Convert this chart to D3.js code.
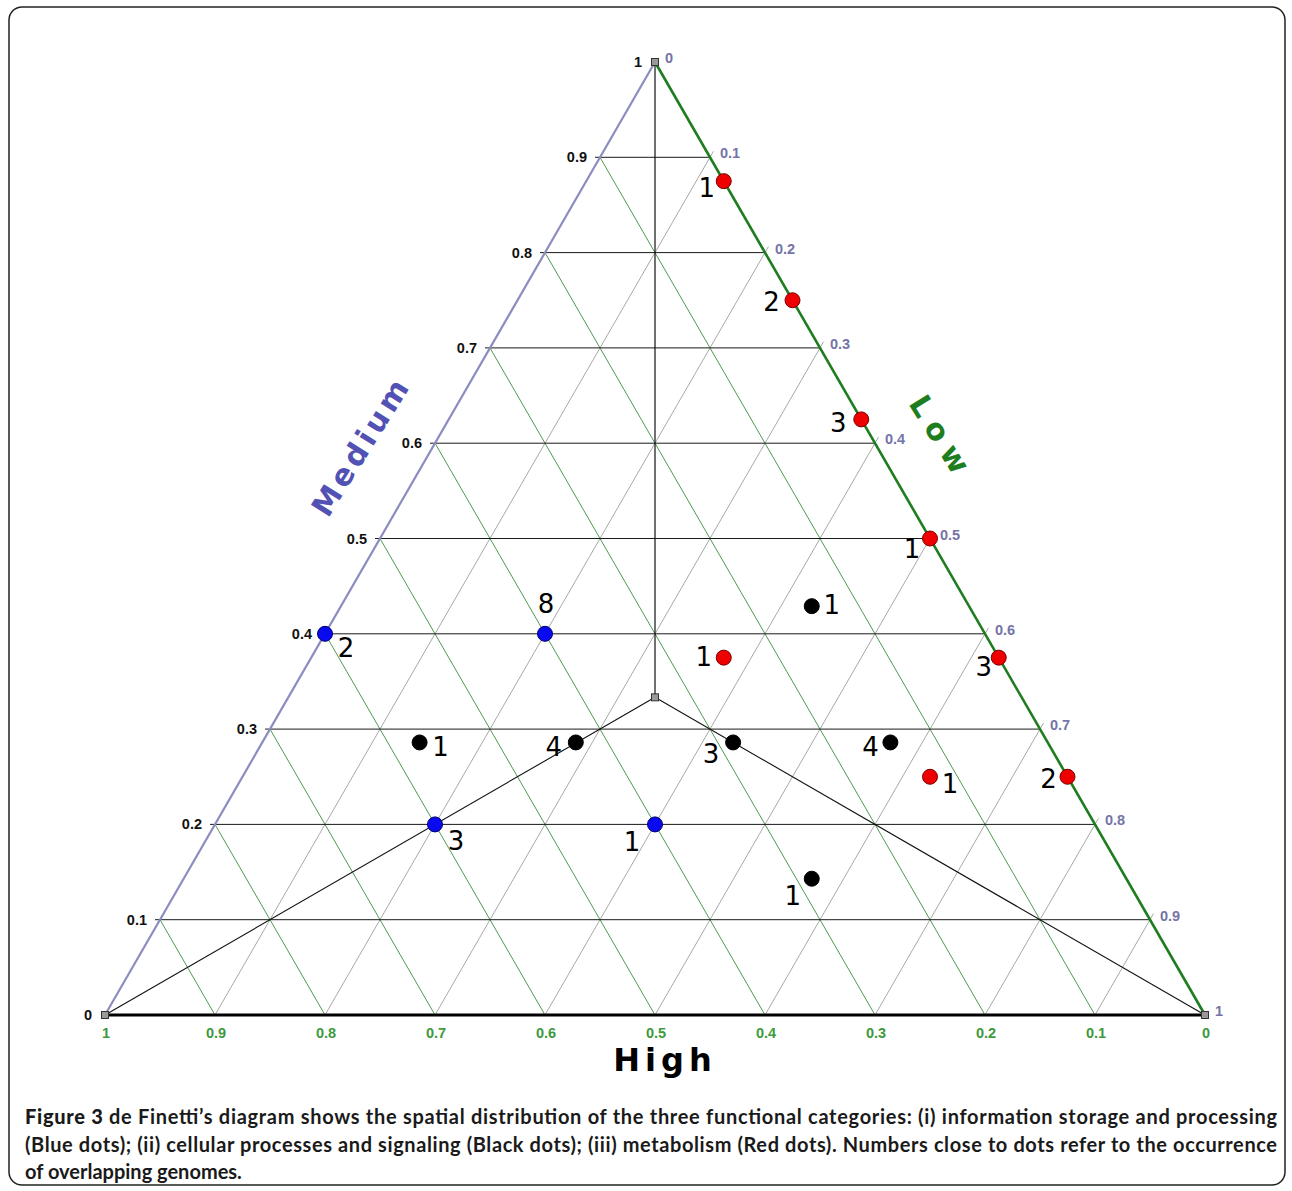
<!DOCTYPE html>
<html>
<head>
<meta charset="utf-8">
<script src="https://cdn.jsdelivr.net/npm/d3@7"></script>
<style>
  html, body { margin: 0; padding: 0; background: #fff; }
  svg { display: block; }
</style>
</head>
<body>
<svg id="chart" width="1292" height="1191"></svg>
<script>
// ---------- data ----------
const tickValues = [0, 0.1, 0.2, 0.3, 0.4, 0.5, 0.6, 0.7, 0.8, 0.9, 1];
const tickLabels = ["0", "0.1", "0.2", "0.3", "0.4", "0.5", "0.6", "0.7", "0.8", "0.9", "1"];

// Blue dots: information storage and processing
const blueHigh   = [0.6, 0.4, 0.6, 0.4];
const blueMedium = [0.4, 0.4, 0.2, 0.2];
const blueLow    = [0.0, 0.2, 0.2, 0.4];
const blueCount  = [2, 8, 3, 1];

// Black dots: cellular processes and signaling
const blackHigh   = [0.143, 0.571, 0.429, 0.286, 0.143, 0.286];
const blackMedium = [0.429, 0.286, 0.286, 0.286, 0.286, 0.143];
const blackLow    = [0.428, 0.143, 0.285, 0.428, 0.571, 0.571];
const blackCount  = [1, 1, 4, 3, 4, 1];

// Red dots: metabolism
const redHigh   = [0.0, 0.0, 0.0, 0.0, 0.0, 0.0, 0.25, 0.125];
const redMedium = [0.875, 0.75, 0.625, 0.5, 0.375, 0.25, 0.375, 0.25];
const redLow    = [0.125, 0.25, 0.375, 0.5, 0.625, 0.75, 0.375, 0.625];
const redCount  = [1, 2, 3, 1, 3, 2, 1, 1];

// centre of the diagram (equal shares)
const centre = {high: 1/3, medium: 1/3, low: 1/3};

const captionLines = [
  ["Figure 3", " de Finetti\u2019s diagram shows the spatial distribution of the three functional categories: (i) information storage and processing"],
  ["", "(Blue dots); (ii) cellular processes and signaling (Black dots); (iii) metabolism (Red dots). Numbers close to dots refer to the occurrence"],
  ["", "of overlapping genomes."]
];

// ---------- layout / style (kept apart from data) ----------
const blueLabelOffset  = [[21, 14], [1, -30], [21, 16], [-23, 17]];
const blackLabelOffset = [[20, -2], [21, 4], [-22, 4], [-22, 11], [-20, 4], [-19, 17]];
const redLabelOffset   = [[-17, 7], [-21, 1], [-23, 3], [-18, 10], [-15, 9], [-19, 2], [-20, -1], [20, 7]];

const svg = d3.select("#chart");

// scales: ternary -> cartesian
const xScale = d3.scaleLinear().domain([0, 1]).range([105, 1205]);
const yScale = d3.scaleLinear().domain([0, 1]).range([1015, 62]);
const proj = d => [xScale(d.low + d.medium / 2), yScale(d.medium)];

function series(H, M, L, N) {
  return H.map((h, i) => ({high: h, medium: M[i], low: L[i], n: N[i]}));
}
const blueData = series(blueHigh, blueMedium, blueLow, blueCount);
const blackData = series(blackHigh, blackMedium, blackLow, blackCount);
const redData = series(redHigh, redMedium, redLow, redCount);

// frame
svg.append("rect").attr("x", 9).attr("y", 7).attr("width", 1276).attr("height", 1178)
  .attr("rx", 13).attr("fill", "none").attr("stroke", "#222").attr("stroke-width", 1.5);

const g = svg.append("g");
const inner = tickValues.slice(1, -1);

function line(a, b, color, w, ext0 = 0, ext1 = 0) {
  const p = proj(a), q = proj(b);
  const dx = q[0] - p[0], dy = q[1] - p[1];
  const len = Math.hypot(dx, dy);
  const ux = dx / len, uy = dy / len;
  g.append("line")
    .attr("x1", p[0] - ux * ext0).attr("y1", p[1] - uy * ext0)
    .attr("x2", q[0] + ux * ext1).attr("y2", q[1] + uy * ext1)
    .attr("stroke", color).attr("stroke-width", w);
}

// green lines: constant High (parallel to right edge)
inner.forEach(h => line({high: h, medium: 0, low: 1 - h}, {high: h, medium: 1 - h, low: 0}, "#4f9a4f", 1));
// gray lines: constant Low (parallel to left edge)
inner.forEach(l => line({high: 1 - l, medium: 0, low: l}, {high: 0, medium: 1 - l, low: l}, "#a8a8a8", 1, 0, 7));
// horizontal lines: constant Medium
inner.forEach(m => line({high: 1 - m, medium: m, low: 0}, {high: 0, medium: m, low: 1 - m}, "#1a1a1a", 1, 5, 0));

// lines from centre to the vertices
const vHigh = {high: 1, medium: 0, low: 0}, vMed = {high: 0, medium: 1, low: 0}, vLow = {high: 0, medium: 0, low: 1};
line(vMed, centre, "#111", 1.2);
line(centre, vHigh, "#111", 1.1);
line(centre, vLow, "#111", 1.1);

// triangle edges
line(vHigh, vMed, "#8c8cc0", 2.2);
line(vMed, vLow, "#1e7d1e", 2.6);
line(vHigh, vLow, "#000", 3);

// small squares at vertices and centre
[vHigh, vMed, vLow, centre].forEach(v => {
  const p = proj(v);
  g.append("rect").attr("x", p[0] - 3.5).attr("y", p[1] - 3.5).attr("width", 7).attr("height", 7)
    .attr("fill", "#999").attr("stroke", "#333").attr("stroke-width", 1);
});

// tick labels
const tickFont = "'Liberation Sans', Arial, sans-serif";
const tickSize = 14.5;
tickValues.forEach((v, i) => {
  // Medium (left edge)
  const pl = proj({high: 1 - v, medium: v, low: 0});
  g.append("text").attr("x", pl[0] - 13).attr("y", pl[1]).attr("dy", "0.35em")
    .attr("text-anchor", "end").attr("font-family", tickFont).attr("font-weight", "bold")
    .attr("font-size", tickSize).attr("fill", "#111").text(tickLabels[i]);
  // Low (right edge)
  const pr = proj({high: 0, medium: 1 - v, low: v});
  g.append("text").attr("x", pr[0] + 10).attr("y", pr[1] - 4).attr("dy", "0.35em")
    .attr("text-anchor", "start").attr("font-family", tickFont).attr("font-weight", "bold")
    .attr("font-size", tickSize).attr("fill", "#7474a8").text(tickLabels[i]);
  // High (bottom edge)
  const pb = proj({high: v, medium: 0, low: 1 - v});
  g.append("text").attr("x", pb[0] + 1).attr("y", pb[1] + 18).attr("dy", "0.35em")
    .attr("text-anchor", "middle").attr("font-family", tickFont).attr("font-weight", "bold")
    .attr("font-size", tickSize).attr("fill", "#3d9a3d").text(tickLabels[i]);
});

// axis titles
const titleFont = "'DejaVu Sans', Verdana, sans-serif";
g.append("text").attr("transform", "translate(361,446) rotate(-58)")
  .attr("text-anchor", "middle").attr("dy", "0.35em")
  .attr("font-family", titleFont).attr("font-weight", "bold").attr("font-size", 30)
  .attr("letter-spacing", 4).attr("fill", "#5252b4").text("Medium");
g.append("text").attr("transform", "translate(942,438) rotate(58)")
  .attr("text-anchor", "middle").attr("dy", "0.35em")
  .attr("font-family", titleFont).attr("font-weight", "bold").attr("font-size", 30)
  .attr("letter-spacing", 9).attr("fill", "#1e7d1e").text("Low");
g.append("text").attr("x", 665).attr("y", 1071)
  .attr("text-anchor", "middle")
  .attr("font-family", titleFont).attr("font-weight", "bold").attr("font-size", 32)
  .attr("letter-spacing", 5).attr("fill", "#000").text("High");

// dots and counts
function drawDots(data, offsets, fill, stroke) {
  const grp = g.append("g");
  grp.selectAll("circle").data(data).join("circle")
    .attr("cx", d => proj(d)[0]).attr("cy", d => proj(d)[1]).attr("r", 7.5)
    .attr("fill", fill).attr("stroke", stroke).attr("stroke-width", 1);
  grp.selectAll("text").data(data).join("text")
    .attr("x", (d, i) => proj(d)[0] + offsets[i][0])
    .attr("y", (d, i) => proj(d)[1] + offsets[i][1])
    .attr("dy", "0.36em").attr("text-anchor", "middle")
    .attr("font-family", titleFont).attr("font-size", 26).attr("fill", "#000")
    .text(d => d.n);
}
drawDots(blueData, blueLabelOffset, "#0a0af0", "#00006a");
drawDots(blackData, blackLabelOffset, "#000", "#000");
drawDots(redData, redLabelOffset, "#ee0000", "#7a0000");

// caption
const capFont = "Lato, 'Open Sans', sans-serif";
const capY = [1124, 1152, 1179];
captionLines.forEach((ln, i) => {
  const t = svg.append("text").attr("x", 25).attr("y", capY[i])
    .attr("font-family", capFont).attr("font-size", 20).attr("font-weight", 700).attr("fill", "#1a1a1a");
  if (i < 2) t.attr("textLength", 1252).attr("lengthAdjust", "spacing");
  if (ln[0]) t.append("tspan").attr("font-weight", 900).text(ln[0]);
  t.append("tspan").text(ln[1]);
});
</script>
</body>
</html>
